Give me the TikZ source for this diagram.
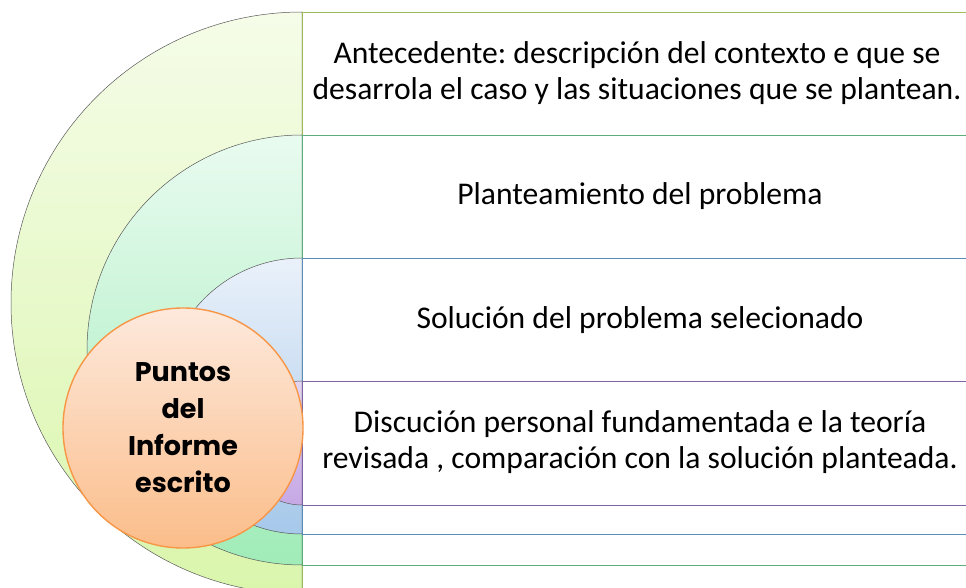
\documentclass[tikz,border=0pt]{standalone}
\usepackage{fontspec}
\setmainfont{Carlito}
\newfontfamily\corefont{Poppins}
\usepackage{xcolor}
\usetikzlibrary{positioning}

\definecolor{ringA}{HTML}{9BBB59}
\definecolor{ringB}{HTML}{5BAE7A}
\definecolor{ringC}{HTML}{5B8DB8}
\definecolor{ringD}{HTML}{8064A2}
\definecolor{fillAtop}{HTML}{F5FCE8}
\definecolor{fillAbot}{HTML}{DAF6AC}
\definecolor{fillBtop}{HTML}{E9FBF0}
\definecolor{fillBbot}{HTML}{A0ECB8}
\definecolor{fillCtop}{HTML}{EAF1FA}
\definecolor{fillCbot}{HTML}{A6C8EA}
\definecolor{fillDtop}{HTML}{E2D4F2}
\definecolor{fillDbot}{HTML}{C6A8E4}
\definecolor{coretop}{HTML}{FDE9DC}
\definecolor{corebot}{HTML}{FBBD8A}
\definecolor{coreline}{HTML}{F79646}

\frenchspacing

\begin{document}
\begin{tikzpicture}[
  x=1pt, y=1pt,
  half/.style={draw=black!65,line width=0.5pt},
  band/.style={fill=white,line width=0.9pt},
  bandtext/.style={font=\fontsize{31.6}{36}\selectfont,align=center},
  core/.style={circle,draw=coreline,line width=1.4pt,minimum size=240pt,
    top color=coretop,bottom color=corebot,
    font=\corefont\bfseries\fontsize{27}{37}\selectfont,align=center}
]
\useasboundingbox (0,0) rectangle (966,-588);
\clip (0,0) rectangle (966,-588);

% outer ring
\shade[half,top color=fillAtop,bottom color=fillAbot] (302,-12) arc[start angle=90,end angle=270,radius=291] -- cycle;
\draw[band,draw=ringA] (302,-596) -- (302,-12) -- (990,-12);
% second ring
\shade[half,top color=fillBtop,bottom color=fillBbot] (302,-135) arc[start angle=90,end angle=270,radius=215] -- cycle;
\draw[band,draw=ringB] (990,-565) -- (302,-565) -- (302,-135) -- (990,-135);
% third ring
\shade[half,top color=fillCtop,bottom color=fillCbot] (302,-258) arc[start angle=90,end angle=270,radius=138] -- cycle;
\draw[band,draw=ringC] (990,-534) -- (302,-534) -- (302,-258) -- (990,-258);
% inner ring
\shade[half,top color=fillDtop,bottom color=fillDbot] (302,-381) arc[start angle=90,end angle=270,radius=62] -- cycle;
\draw[band,draw=ringD] (990,-505) -- (302,-505) -- (302,-381) -- (990,-381);

\node[bandtext] (antecedente) at (637,-73) {Antecedente: descripción del contexto e que se\\desarrola el caso y las situaciones que se plantean.};
\node[bandtext] (planteamiento) at (640,-196) {Planteamiento del problema};
\node[bandtext] (solucion) at (640,-320) {Solución del problema selecionado};
\node[bandtext] (discucion) at (640,-442) {Discución personal fundamentada e la teoría\\revisada , comparación con la solución planteada.};

\node[core] (puntos) at (183,-428) {Puntos\\del\\Informe\\escrito};

\end{tikzpicture}
\end{document}
